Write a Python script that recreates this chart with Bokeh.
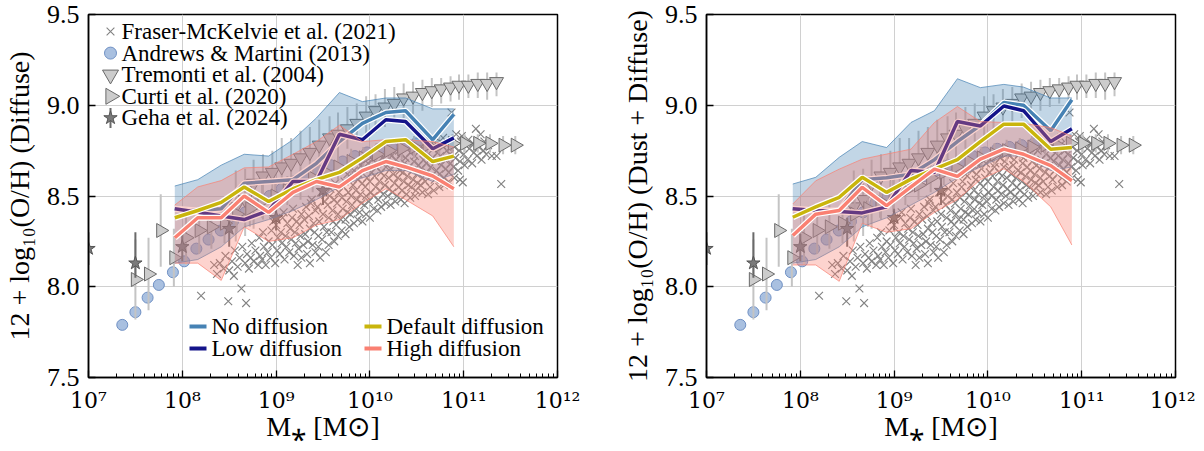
import numpy as np
from bokeh.plotting import figure
from bokeh.layouts import row
from bokeh.models import Range1d, FixedTicker, LinearScale
from bokeh.core.properties import value
from bokeh.embed import file_html
from bokeh.resources import INLINE

FONT = "Liberation Serif"

# ---------------- axes ----------------
x_tick_values = [1e7, 1e8, 1e9, 1e10, 1e11, 1e12]
x_tick_labels = ["10⁷", "10⁸", "10⁹", "10¹⁰", "10¹¹", "10¹²"]
y_tick_values = [7.5, 8.0, 8.5, 9.0, 9.5]
y_tick_labels = ["7.5", "8.0", "8.5", "9.0", "9.5"]
x_label = "M⁎ [M⊙]"
y_labels = ["12 + log₁₀(O/H) (Diffuse)", "12 + log₁₀(O/H) (Dust + Diffuse)"]
obs_labels = ["Fraser-McKelvie et al. (2021)", "Andrews & Martini (2013)",
              "Tremonti et al. (2004)", "Curti et al. (2020)", "Geha et al. (2024)"]
model_labels = ["No diffusion", "Low diffusion", "Default diffusion", "High diffusion"]

# ---------------- observations ----------------
fm_logm = [8.20,
           8.34, 8.37, 8.40, 8.44, 8.46, 8.49, 8.50,
           8.53, 8.55, 8.56, 8.59, 8.61, 8.63, 8.64,
           8.68, 8.67, 8.69, 8.71, 8.73, 8.74, 8.76, 8.78,
           8.81, 8.83, 8.82, 8.85, 8.87, 8.86, 8.89, 8.91, 8.92,
           8.94, 8.96, 8.95, 8.97, 8.99, 9.01, 9.02, 9.00,
           9.04, 9.06, 9.05, 9.07, 9.09, 9.11, 9.10, 9.12, 9.08,
           9.14, 9.16, 9.15, 9.17, 9.19, 9.21, 9.20, 9.22, 9.18,
           9.24, 9.26, 9.25, 9.27, 9.29, 9.31, 9.30, 9.32,
           9.34, 9.36, 9.35, 9.37, 9.39, 9.41, 9.40, 9.42, 9.38,
           9.47, 9.45, 9.46, 9.44, 9.49, 9.51, 9.50, 9.52, 9.48,
           9.54, 9.56, 9.55, 9.57, 9.59, 9.61, 9.60, 9.62, 9.58,
           9.64, 9.66, 9.65, 9.67, 9.63, 9.69, 9.71, 9.70, 9.72,
           9.74, 9.76, 9.75, 9.77, 9.73, 9.76, 9.79, 9.81, 9.80, 9.82, 9.78,
           9.84, 9.86, 9.85, 9.87, 9.83, 9.89, 9.91, 9.90, 9.92, 9.88, 9.91,
           9.94, 9.96, 9.95, 9.97, 9.93, 9.99, 10.01, 10.00, 10.02, 9.98, 10.01,
           10.04, 10.06, 10.05, 10.07, 10.03, 10.09, 10.11, 10.10, 10.12, 10.08, 10.11,
           10.14, 10.16, 10.15, 10.17, 10.13, 10.16, 10.19, 10.21, 10.20, 10.22, 10.18, 10.21,
           10.24, 10.26, 10.25, 10.27, 10.23, 10.26, 10.29, 10.31, 10.30, 10.32, 10.28, 10.31,
           10.34, 10.36, 10.35, 10.37, 10.33, 10.39, 10.41, 10.40, 10.42, 10.38, 10.41,
           10.44, 10.46, 10.45, 10.47, 10.43, 10.49, 10.51, 10.50, 10.52, 10.48, 10.51,
           10.54, 10.56, 10.55, 10.57, 10.53, 10.59, 10.61, 10.60, 10.62, 10.58,
           10.64, 10.66, 10.65, 10.67, 10.63, 10.69, 10.71, 10.70, 10.72, 10.68,
           10.74, 10.76, 10.75, 10.77, 10.79, 10.81, 10.80, 10.82, 10.78,
           10.84, 10.86, 10.85, 10.87, 10.87, 10.89, 10.91, 10.90, 10.92,
           10.94, 10.96, 10.95, 10.97, 10.99, 11.01, 11.00, 11.02, 10.98,
           11.04, 11.06, 11.05, 11.09, 11.11, 11.10, 11.13,
           11.14, 11.16, 11.18, 11.19, 11.21, 11.22, 11.24, 11.26,
           11.30, 11.35, 11.40,
           9.23, 9.27, 9.33, 9.36, 9.42, 9.45,
           9.53, 9.56, 9.62, 9.66, 9.70, 9.74, 9.78,
           9.83, 9.87, 9.92, 9.96, 10.00, 10.04, 10.08,
           10.12, 10.17, 10.22, 10.27, 10.33, 10.37,
           10.43, 10.48, 10.56, 10.62, 10.68, 10.74, 10.79,
           10.84, 10.90, 10.96]
fm_z = [7.95,
        8.12, 8.07, 8.13, 8.10, 8.17, 7.92, 8.09,
        8.14, 8.06, 8.20, 8.11, 8.16, 7.99, 8.22,
        7.91, 8.13, 8.18, 8.10, 8.16, 8.24, 8.14, 8.20,
        8.12, 8.17, 8.27, 8.15, 8.22, 8.30, 8.12, 8.19, 8.25,
        8.16, 8.23, 8.31, 8.36, 8.13, 8.20, 8.27, 8.34,
        8.18, 8.24, 8.30, 8.38, 8.15, 8.22, 8.28, 8.35, 8.41,
        8.19, 8.26, 8.32, 8.38, 8.17, 8.24, 8.30, 8.36, 8.43,
        8.21, 8.28, 8.34, 8.40, 8.23, 8.29, 8.37, 8.44,
        8.25, 8.32, 8.39, 8.46, 8.23, 8.30, 8.35, 8.42, 8.48,
        8.16, 8.28, 8.36, 8.44, 8.26, 8.33, 8.40, 8.47, 8.52,
        8.30, 8.38, 8.45, 8.50, 8.30, 8.36, 8.42, 8.48, 8.54,
        8.34, 8.40, 8.46, 8.52, 8.57, 8.37, 8.43, 8.49, 8.55,
        8.37, 8.41, 8.47, 8.52, 8.58, 8.62, 8.40, 8.45, 8.50, 8.56, 8.61,
        8.42, 8.48, 8.53, 8.59, 8.64, 8.41, 8.46, 8.51, 8.57, 8.62, 8.67,
        8.45, 8.50, 8.55, 8.60, 8.65, 8.47, 8.52, 8.58, 8.63, 8.68, 8.72,
        8.50, 8.55, 8.61, 8.66, 8.70, 8.48, 8.53, 8.58, 8.63, 8.68, 8.73,
        8.51, 8.56, 8.61, 8.66, 8.71, 8.76, 8.50, 8.54, 8.60, 8.65, 8.69, 8.74,
        8.52, 8.57, 8.62, 8.67, 8.72, 8.77, 8.50, 8.55, 8.60, 8.64, 8.70, 8.75,
        8.53, 8.58, 8.63, 8.68, 8.73, 8.51, 8.56, 8.61, 8.66, 8.71, 8.78,
        8.55, 8.59, 8.64, 8.69, 8.74, 8.53, 8.57, 8.62, 8.67, 8.72, 8.76,
        8.56, 8.60, 8.65, 8.70, 8.75, 8.58, 8.63, 8.68, 8.73, 8.79,
        8.55, 8.61, 8.66, 8.71, 8.77, 8.59, 8.64, 8.69, 8.74, 8.80,
        8.62, 8.67, 8.72, 8.78, 8.60, 8.65, 8.70, 8.75, 8.82,
        8.63, 8.68, 8.73, 8.79, 8.96, 8.66, 8.71, 8.77, 8.84,
        8.64, 8.69, 8.75, 8.80, 8.575, 8.67, 8.73, 8.78, 8.83,
        8.70, 8.76, 8.81, 8.68, 8.74, 8.79, 8.87,
        8.72, 8.77, 8.84, 8.70, 8.75, 8.80, 8.73, 8.78,
        8.72, 8.72, 8.566,
        8.12, 8.16, 8.18, 8.13, 8.19, 8.22,
        8.19, 8.23, 8.25, 8.28, 8.31, 8.29, 8.33,
        8.35, 8.37, 8.36, 8.40, 8.38, 8.43, 8.42,
        8.44, 8.46, 8.45, 8.47, 8.48, 8.46,
        8.49, 8.50, 8.52, 8.51, 8.53, 8.55, 8.56,
        8.58, 8.60, 8.59]

am_logm = [7.36, 7.50, 7.63, 7.75, 7.90, 8.02, 8.15, 8.28, 8.41, 8.54, 8.67, 8.80,
           8.93, 9.06, 9.19, 9.32, 9.45, 9.58, 9.71, 9.84, 9.97, 10.10, 10.23, 10.36, 10.49]
am_z = [7.79, 7.86, 7.94, 8.01, 8.08, 8.14, 8.21, 8.26, 8.31, 8.36, 8.41, 8.46,
        8.50, 8.54, 8.58, 8.61, 8.64, 8.67, 8.69, 8.72, 8.74, 8.76, 8.77, 8.78, 8.79]

t04_logm = [8.57, 8.67, 8.76, 8.86, 8.96, 9.06, 9.16, 9.26, 9.36, 9.46, 9.57, 9.66, 9.76,
            9.86, 9.96, 10.06, 10.16, 10.26, 10.36, 10.46, 10.56, 10.66, 10.76, 10.86,
            10.95, 11.05, 11.15, 11.25, 11.35]
t04_z = [8.44, 8.48, 8.57, 8.61, 8.63, 8.66, 8.68, 8.71, 8.74, 8.78, 8.82, 8.84, 8.87,
         8.90, 8.94, 8.97, 8.99, 9.01, 9.04, 9.05, 9.07, 9.08, 9.09, 9.10,
         9.11, 9.11, 9.12, 9.12, 9.13]
t04_lo = [8.25, 8.28, 8.32, 8.37, 8.46, 8.56, 8.59, 8.60, 8.63, 8.66, 8.69, 8.72, 8.76,
          8.80, 8.83, 8.85, 8.88, 8.91, 8.93, 8.95, 8.97, 8.99, 9.01, 9.02,
          9.03, 9.04, 9.04, 9.03, 9.05]
t04_hi = [8.64, 8.65, 8.70, 8.73, 8.75, 8.82, 8.82, 8.86, 8.88, 8.92, 8.94, 8.96, 8.99,
          9.01, 9.05, 9.06, 9.09, 9.10, 9.12, 9.13, 9.14, 9.15, 9.15, 9.16,
          9.17, 9.17, 9.18, 9.18, 9.18]

c20_logm = [7.50, 7.64, 7.77, 7.91, 8.04, 8.18, 8.31, 8.45, 8.58, 8.72, 8.85, 8.99, 9.12,
            9.26, 9.39, 9.53, 9.66, 9.80, 9.93, 10.07, 10.20, 10.34, 10.47, 10.61,
            10.74, 10.88, 11.01, 11.15, 11.28, 11.42, 11.55]
c20_z = [8.04, 8.07, 8.31, 8.16, 8.27, 8.31, 8.33, 8.35, 8.40, 8.43, 8.47, 8.50, 8.53,
         8.56, 8.60, 8.63, 8.66, 8.69, 8.71, 8.73, 8.75, 8.76, 8.77, 8.78,
         8.78, 8.79, 8.79, 8.79, 8.79, 8.78, 8.78]
c20_err = [0.22, 0.20, 0.20, 0.16, 0.15, 0.13, 0.12, 0.11, 0.10, 0.10, 0.09, 0.09, 0.08,
           0.08, 0.08, 0.07, 0.07, 0.07, 0.06, 0.06, 0.06, 0.06, 0.06, 0.05,
           0.05, 0.05, 0.05, 0.05, 0.05, 0.05, 0.05]

g24_logm = [7.0, 7.5, 8.0, 8.5, 9.0, 9.5]
g24_z = [8.21, 8.13, 8.22, 8.32, 8.38, 8.53]
g24_lo = [8.12, 8.05, 8.14, 8.22, 8.31, 8.45]
g24_hi = [8.30, 8.30, 8.29, 8.38, 8.43, 8.60]

# ---------------- simulations ----------------
model_logm = [7.92, 8.165, 8.415, 8.66, 8.92, 9.18, 9.43, 9.675, 9.92, 10.17, 10.38, 10.67, 10.895]

# left panel: diffuse
no_L = [8.43, 8.42, 8.43, 8.57, 8.58, 8.59, 8.68, 8.80, 8.90, 8.96, 8.97, 8.81, 8.95]
no_L_hi = [8.555, 8.59, 8.67, 8.73, 8.72, 8.81, 8.93, 9.07, 9.02, 9.04, 9.04, 8.98, 8.98]
no_L_lo = [8.13, 8.15, 8.22, 8.33, 8.37, 8.42, 8.48, 8.55, 8.60, 8.64, 8.64, 8.58, 8.62]
low_L = [8.43, 8.41, 8.39, 8.37, 8.42, 8.58, 8.58, 8.84, 8.81, 8.92, 8.91, 8.76, 8.82]
def_L = [8.38, 8.42, 8.465, 8.55, 8.47, 8.54, 8.59, 8.63, 8.71, 8.80, 8.81, 8.69, 8.72]
high_L = [8.27, 8.38, 8.38, 8.50, 8.41, 8.52, 8.58, 8.55, 8.64, 8.69, 8.66, 8.61, 8.54]
high_L_hi = [8.45, 8.55, 8.585, 8.655, 8.66, 8.73, 8.80, 8.89, 8.80, 8.81, 8.81, 8.80, 8.77]
high_L_lo = [8.13, 8.13, 8.035, 8.33, 8.25, 8.27, 8.34, 8.37, 8.46, 8.54, 8.48, 8.39, 8.22]

# right panel: dust + diffuse
no_R = [8.43, 8.42, 8.42, 8.59, 8.60, 8.62, 8.70, 8.80, 8.89, 9.015, 9.00, 8.86, 9.03]
no_R_hi = [8.566, 8.603, 8.713, 8.80, 8.767, 8.905, 8.97, 9.146, 9.097, 9.115, 9.10, 9.04, 9.04]
no_R_lo = [8.13, 8.15, 8.22, 8.33, 8.38, 8.45, 8.52, 8.60, 8.66, 8.72, 8.72, 8.64, 8.66]
low_R = [8.43, 8.42, 8.414, 8.407, 8.44, 8.64, 8.63, 8.91, 8.886, 8.996, 8.97, 8.80, 8.87]
def_R = [8.383, 8.44, 8.493, 8.603, 8.52, 8.593, 8.648, 8.70, 8.80, 8.896, 8.896, 8.758, 8.767]
high_R = [8.282, 8.40, 8.42, 8.548, 8.447, 8.55, 8.648, 8.608, 8.703, 8.758, 8.73, 8.667, 8.584]
high_R_hi = [8.456, 8.584, 8.648, 8.703, 8.731, 8.758, 8.905, 8.993, 8.91, 8.905, 8.90, 8.877, 8.83]
high_R_lo = [8.12, 8.12, 8.03, 8.35, 8.30, 8.32, 8.41, 8.48, 8.59, 8.65, 8.58, 8.44, 8.23]

C_NO, C_LOW, C_DEF, C_HIGH = "#4682b4", "#14148a", "#c9b50c", "#fa8072"
C_X, C_GRAYF, C_GRAYE, C_BAR = "#828282", "#cccccc", "#6a6a6a", "#c4c4c4"
C_AMF, C_AME, C_STARF, C_STARE = "#a9c0e0", "#6f90c4", "#7a7a7a", "#555555"

FW, FH = 469, 363


def pw(v):
    return [10.0 ** a for a in v]


def make_panel(ylabel, no, no_lo, no_hi, low, de, high, high_lo, high_hi,
               border_right, legends):
    p = figure(frame_width=FW, frame_height=FH, x_axis_type="log",
               x_range=Range1d(1e7, 1e12), y_range=Range1d(7.5, 9.5),
               output_backend="svg", toolbar_location=None,
               min_border_left=81, min_border_right=border_right,
               min_border_top=14, min_border_bottom=58)
    p.outline_line_color = "black"
    p.outline_line_width = 1.5
    p.outline_line_alpha = 1.0
    p.background_fill_color = "white"
    p.border_fill_color = "white"
    p.grid.grid_line_color = "#d0d0d0"
    p.grid.grid_line_width = 1

    minor = [m * 10.0 ** e for e in range(7, 12) for m in range(2, 10)]
    p.xaxis.ticker = FixedTicker(ticks=x_tick_values, minor_ticks=minor)
    p.xaxis.major_label_overrides = {v: s for v, s in zip(x_tick_values, x_tick_labels)}
    p.yaxis.ticker = FixedTicker(ticks=y_tick_values)
    p.yaxis.major_label_overrides = {v: s for v, s in zip(y_tick_values, y_tick_labels)}
    p.xgrid.ticker = FixedTicker(ticks=x_tick_values)
    p.ygrid.ticker = FixedTicker(ticks=y_tick_values)

    for ax in (p.xaxis[0], p.yaxis[0]):
        ax.major_tick_in = 7
        ax.major_tick_out = 0
        ax.minor_tick_in = 4
        ax.minor_tick_out = 0
        ax.axis_line_width = 1.5
        ax.major_tick_line_width = 1.3
        ax.minor_tick_line_width = 1
        ax.major_label_text_font = FONT
        ax.axis_label_text_font = FONT
        ax.axis_label_text_font_style = "normal"
        ax.axis_label_text_font_size = "28px"
        ax.major_label_text_color = "black"
        ax.axis_label_text_color = "black"
    p.yaxis.minor_tick_line_color = None
    p.xaxis.major_label_text_font = "DejaVu Serif"
    p.xaxis.major_label_text_font_size = "22px"
    p.yaxis.major_label_text_font_size = "26px"
    p.xaxis.major_label_standoff = 10
    p.yaxis.major_label_standoff = 9
    p.xaxis.axis_label_standoff = -5
    p.yaxis.axis_label_standoff = 9
    p.xaxis.axis_label = x_label
    p.yaxis.axis_label = ylabel

    # observations
    p.scatter(pw(fm_logm), fm_z, marker="x", size=11, line_color=C_X, line_width=1.15)
    p.scatter(pw(am_logm), am_z, marker="circle", size=11, fill_color=C_AMF,
              line_color=C_AME, line_width=1)
    p.segment(pw(t04_logm), t04_lo, pw(t04_logm), t04_hi, line_color=C_BAR, line_width=2)
    p.scatter(pw(t04_logm), t04_z, marker="inverted_triangle", size=14,
              fill_color=C_GRAYF, line_color=C_GRAYE, line_width=1)
    c_lo = [z - e for z, e in zip(c20_z, c20_err)]
    c_hi = [z + e for z, e in zip(c20_z, c20_err)]
    p.segment(pw(c20_logm), c_lo, pw(c20_logm), c_hi, line_color=C_BAR, line_width=2)
    p.scatter(pw(c20_logm), c20_z, marker="triangle", angle=-np.pi / 2, size=14,
              fill_color=C_GRAYF, line_color=C_GRAYE, line_width=1)
    p.segment(pw(g24_logm), g24_lo, pw(g24_logm), g24_hi, line_color=C_GRAYE, line_width=2)
    p.scatter(pw(g24_logm), g24_z, marker="star", size=14, fill_color=C_STARF,
              line_color=C_STARE, line_width=1)

    mx = pw(model_logm)
    p.varea(x=mx, y1=no_lo, y2=no_hi, fill_color=C_NO, fill_alpha=0.33)
    p.line(mx, no_hi, line_color=C_NO, line_width=1, line_alpha=0.7)
    p.line(mx, no_lo, line_color=C_NO, line_width=1, line_alpha=0.7)
    p.line(mx, no, line_color="white", line_width=6)
    p.line(mx, no, line_color=C_NO, line_width=3.5)
    p.line(mx, low, line_color="white", line_width=6)
    p.line(mx, low, line_color=C_LOW, line_width=3.5)
    p.varea(x=mx, y1=high_lo, y2=high_hi, fill_color=C_HIGH, fill_alpha=0.35)
    p.line(mx, high_hi, line_color=C_HIGH, line_width=1, line_alpha=0.7)
    p.line(mx, high_lo, line_color=C_HIGH, line_width=1, line_alpha=0.7)
    p.line(mx, de, line_color="white", line_width=6)
    p.line(mx, de, line_color=C_DEF, line_width=3.5)
    p.line(mx, high, line_color="white", line_width=6)
    p.line(mx, high, line_color=C_HIGH, line_width=3.5)

    if legends:
        # legend keys drawn in a pixel coordinate space of the frame
        p.extra_x_ranges = {"px": Range1d(0, FW)}
        p.extra_y_ranges = {"px": Range1d(0, FH)}
        p.extra_x_scales = {"px": LinearScale()}
        p.extra_y_scales = {"px": LinearScale()}
        kw = dict(x_range_name="px", y_range_name="px")
        ry = [FH - (17 + 21.6 * i) for i in range(5)]
        kx = 22
        p.scatter([kx], [ry[0]], marker="x", size=11, line_color=C_X, line_width=1.1, **kw)
        p.scatter([kx], [ry[1]], marker="circle", size=12, fill_color=C_AMF,
                  line_color=C_AME, line_width=1, **kw)
        p.scatter([kx], [ry[2]], marker="inverted_triangle", size=16, fill_color=C_GRAYF,
                  line_color=C_GRAYE, line_width=1, **kw)
        p.scatter([kx], [ry[3]], marker="triangle", angle=-np.pi / 2, size=16,
                  fill_color=C_GRAYF, line_color=C_GRAYE, line_width=1, **kw)
        p.segment([kx], [ry[4] - 10], [kx], [ry[4] + 10], line_color=C_GRAYE,
                  line_width=2, **kw)
        p.scatter([kx], [ry[4]], marker="star", size=14, fill_color=C_STARF,
                  line_color=C_STARE, line_width=1, **kw)
        p.text(x=[33] * 5, y=ry, text=obs_labels, text_font=value(FONT),
               text_font_size="23px", text_baseline="middle", text_align="left",
               text_color="black", **kw)

        lx0 = [101, 101, 276, 276]
        ly = [51, 29, 51, 29]
        cols = [C_NO, C_LOW, C_DEF, C_HIGH]
        p.segment([a for a in lx0], ly, [a + 17 for a in lx0], ly, line_color=cols,
                  line_width=4, **kw)
        p.text(x=[a + 22 for a in lx0], y=ly, text=model_labels, text_font=value(FONT),
               text_font_size="23px", text_baseline="middle", text_align="left",
               text_color="black", **kw)
    return p


p1 = make_panel(y_labels[0], no_L, no_L_lo, no_L_hi, low_L, def_L,
                high_L, high_L_lo, high_L_hi, 61, True)
p2 = make_panel(y_labels[1], no_R, no_R_lo, no_R_hi, low_R, def_R,
                high_R, high_R_lo, high_R_hi, 20, False)

layout = row(p1, p2)
open("out.html", "w").write(file_html(layout, INLINE))
